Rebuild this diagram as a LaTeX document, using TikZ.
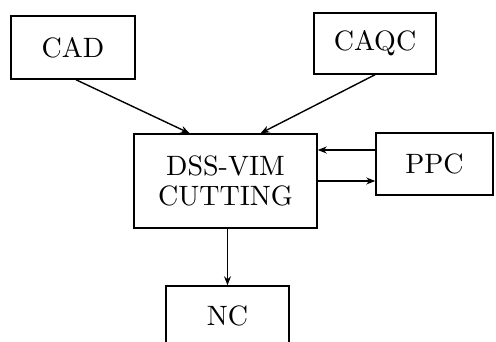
\documentclass[tikz,border=0pt]{standalone}
\usepackage{fontspec}
\setmainfont{lmroman10-regular.otf}
\usetikzlibrary{arrows.meta,calc}
\begin{document}
\begin{tikzpicture}[x=1pt,y=-1pt,
  box/.style={draw,line width=1.5pt,inner sep=0pt,font=\fontsize{28}{30}\selectfont,align=center},
  conn/.style={line width=1.4pt,-{Stealth[length=9pt,width=7pt]}}]
\useasboundingbox (0,0) rectangle (496,342);
\clip (0,0) rectangle (496,342);
\node[box,minimum width=124pt,minimum height=63pt] (CAD) at (73,47.5) {CAD};
\node[box,minimum width=122pt,minimum height=61pt] (CAQC) at (375,43.5) {CAQC};
\node[box,minimum width=183pt,minimum height=94pt] (DSS) at (225.5,181) {DSS-VIM\\CUTTING};
\node[box,minimum width=117pt,minimum height=62pt] (PPC) at (434.5,164) {PPC};
\node[box,minimum width=123pt,text height=40pt,text depth=34pt,anchor=base] (NC) at (227.5,326) {NC};
\draw[conn] ($(CAD.south)+(3,0)$) -- ($(DSS.north west)!0.305!(DSS.north east)$);
\draw[conn] (CAQC.south) -- ($(DSS.north west)!0.69!(DSS.north east)$);
\draw[conn] ([yshift=14pt]PPC.west) -- ([yshift=14pt]PPC.west -| DSS.east);
\draw[conn] ([yshift=-17pt]PPC.west -| DSS.east) -- ([yshift=-17pt]PPC.west);
\draw[conn] (DSS.south -| NC.north) -- (NC.north);
\end{tikzpicture}
\end{document}
